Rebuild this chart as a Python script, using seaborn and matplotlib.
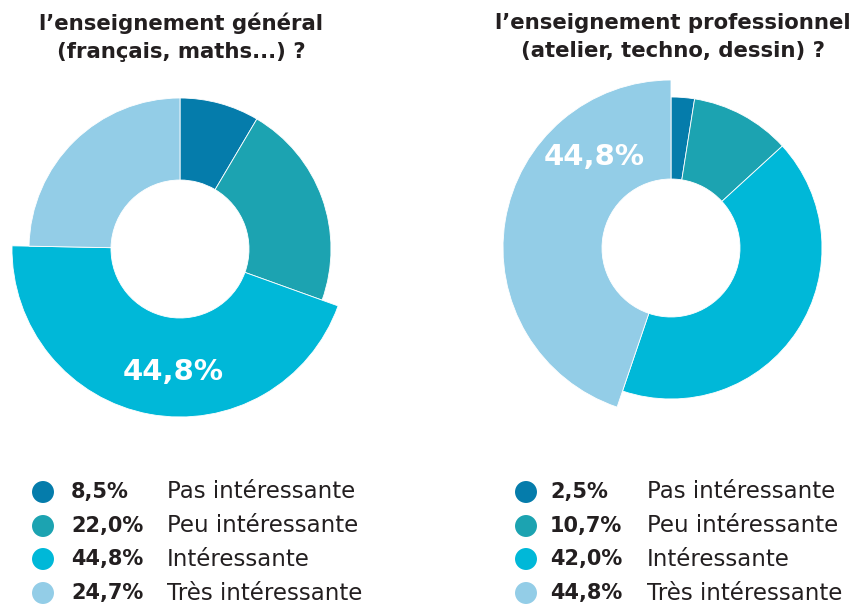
import matplotlib
matplotlib.use("Agg")
import matplotlib.pyplot as plt
import seaborn as sns

sns.set_theme(style="white")
plt.rcParams['font.family'] = ['DejaVu Sans']

# ---- data ----
categories = ["Pas intéressante", "Peu intéressante", "Intéressante", "Très intéressante"]
general_values = [8.5, 22.0, 44.8, 24.7]
pro_values = [2.5, 10.7, 42.0, 44.8]
general_title = "l’enseignement général\n(français, maths...) ?"
pro_title = "l’enseignement professionnel\n(atelier, techno, dessin) ?"
colors = ["#057cab", "#1ca3b1", "#00b8d8", "#93cde7"]

W, H = 858, 605
fig = plt.figure(figsize=(W / 100, H / 100), dpi=100)
ax = fig.add_axes([0, 0, 1, 1])

TXT = "#231f20"
R_SMALL, R_BIG, R_HOLE = 151, 168, 69


def fmt(v):
    return f"{v:.1f}".replace(".", ",") + "%"


def donut(values, cx, cy, label_xy):
    wedges, _ = ax.pie(values, colors=colors, startangle=90, counterclock=False,
                       center=(cx, H - cy), radius=R_SMALL, frame=True,
                       wedgeprops=dict(width=R_SMALL - R_HOLE, edgecolor="white", linewidth=0.6))
    imax = max(range(len(values)), key=lambda i: values[i])
    wedges[imax].set_radius(R_BIG)
    wedges[imax].set_width(R_BIG - R_HOLE)
    ax.text(label_xy[0], H - label_xy[1], fmt(values[imax]), color="white",
            fontsize=21, fontweight="bold", ha="center", va="center")


donut(general_values, 180, 249, (173, 372))
donut(pro_values, 671, 248, (594, 157))

# titles
ax.text(181, H - 37, general_title, ha="center", va="center", fontsize=15.3,
        fontweight="bold", color=TXT, linespacing=1.5)
ax.text(673, H - 37, pro_title, ha="center", va="center", fontsize=15.3,
        fontweight="bold", color=TXT, linespacing=1.5)

# legends
rows = [492, 526, 559, 593]


def legend(values, xdot, xpct, xlab):
    sns.scatterplot(x=[xdot] * len(values), y=[H - r for r in rows], hue=categories,
                    palette=colors, s=250, edgecolor="none", legend=False, ax=ax)
    for r, v, c in zip(rows, values, categories):
        ax.text(xpct, H - r, fmt(v), ha="left", va="center", fontsize=15,
                fontweight="bold", color=TXT)
        ax.text(xlab, H - r, c, ha="left", va="center", fontsize=16.5, color=TXT)


legend(general_values, 43, 71, 167)
legend(pro_values, 526, 550, 647)

ax.set_xlim(0, W)
ax.set_ylim(0, H)
ax.set_aspect("equal")
ax.axis("off")

fig.savefig("out.png", dpi=100, facecolor="white")
